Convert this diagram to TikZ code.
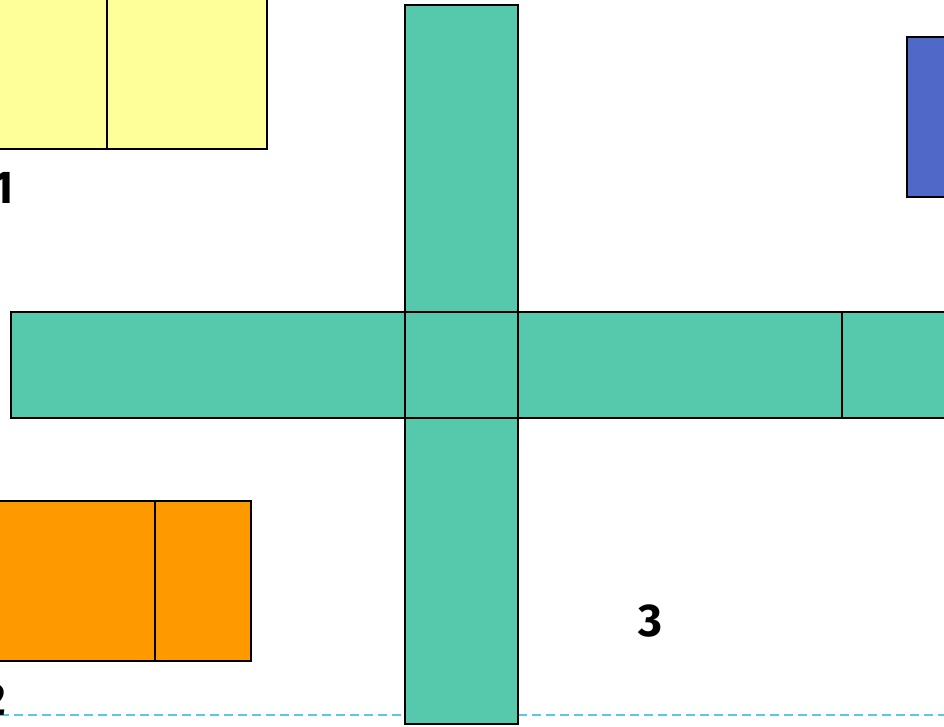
\documentclass[tikz,border=0pt]{standalone}
\usepackage{fontspec}
\setmainfont{Fira Sans}
\usetikzlibrary{positioning}

\definecolor{crossgreen}{HTML}{56C8AC}
\definecolor{padyellow}{HTML}{FFFF99}
\definecolor{padorange}{HTML}{FF9900}
\definecolor{padblue}{HTML}{5068C8}
\definecolor{guideblue}{HTML}{5BC8EB}

\begin{document}
\begin{tikzpicture}[
        x=1pt, y=-1pt,
        node distance=0pt,
        every node/.style={inner sep=0pt, outer sep=0pt},
        cell/.style={draw=black, line width=1.5pt, rectangle},
        crosscell/.style={cell, fill=crossgreen},
        numlabel/.style={font=\fontsize{46}{50}\selectfont\bfseries}
      ]

      \useasboundingbox (0,0) rectangle (944,726);
      \clip (0,0) rectangle (944,726);

      % guide line along the bottom
      \coordinate (guideL) at (0,715);
      \coordinate (guideR) at (944,715);
      \draw[guideblue, line width=2.5pt, dash pattern=on 9pt off 5pt] (guideL) -- (guideR);

      % the cross
      \node[crosscell, minimum width=113pt, minimum height=106pt] (hub) at (461.5,365) {};
      \node[crosscell, minimum width=113pt, minimum height=307pt, above=of hub] (north) {};
      \node[crosscell, minimum width=113pt, minimum height=306pt, below=of hub] (south) {};
      \node[crosscell, minimum width=394pt, minimum height=106pt, left=of hub] (west) {};
      \node[crosscell, minimum width=395pt, minimum height=106pt, right=of hub] (east) {};
      \node[crosscell, minimum width=113pt, minimum height=106pt] (eastend) at (898.5,365) {};

      % pads
      \node[cell, fill=padyellow, minimum width=160pt, minimum height=161pt] (yellowB) at (187,68.5) {};
      \node[cell, fill=padyellow, minimum width=170pt, minimum height=161pt, left=of yellowB] (yellowA) {};
      \node[cell, fill=padorange, minimum width=96pt, minimum height=160pt] (orangeB) at (203,581) {};
      \node[cell, fill=padorange, minimum width=170pt, minimum height=160pt, left=of orangeB] (orangeA) {};
      \node[cell, fill=padblue, minimum width=96pt, minimum height=160pt] (blue) at (955,117) {};

      % numbers
      \node[numlabel, anchor=base east] (one) at (14,203) {1};
      \node[numlabel, anchor=base east] (two) at (6,715) {2};
      \node[numlabel, anchor=base] (three) at (650,636) {3};

    \end{tikzpicture}
\end{document}
